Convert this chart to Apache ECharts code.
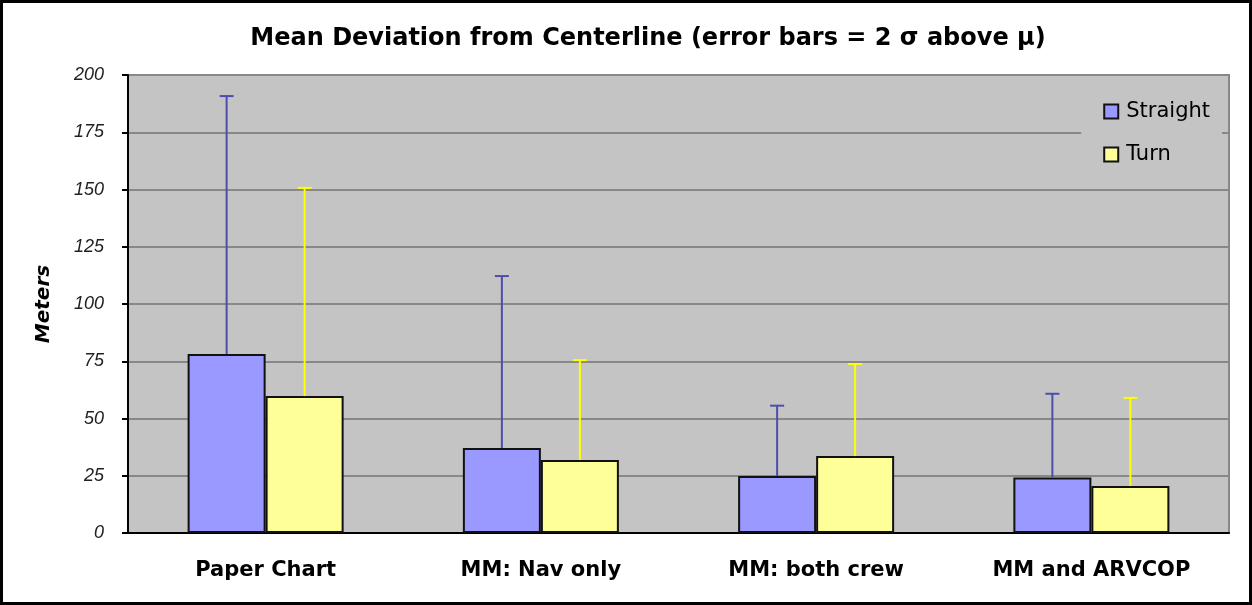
<!DOCTYPE html>
<html>
<head>
<meta charset="utf-8">
<script src="https://cdn.jsdelivr.net/npm/echarts@6/dist/echarts.min.js"></script>
<style>
  html, body { margin: 0; padding: 0; background: #fff; }
  #chart-container { width: 1252px; height: 605px; box-sizing: border-box; border: 3px solid #000; }
</style>
</head>
<body>
<div id="chart-container"></div>
<script>
var categories = ['Paper Chart', 'MM: Nav only', 'MM: both crew', 'MM and ARVCOP'];
var straightMean = [78.2, 37.1, 24.9, 24.2];
var turnMean = [59.8, 31.9, 33.6, 20.5];
// top of each error bar (mean + 2 sigma)
var straightTop = [190.8, 112.2, 55.6, 60.8];
var turnTop = [150.7, 75.5, 73.8, 59.0];

var dom = document.getElementById('chart-container');
var myChart = echarts.init(dom, null, { renderer: 'canvas' });

function errorData(means, tops) {
  var out = [];
  for (var i = 0; i < means.length; i++) {
    out.push([i, means[i], tops[i]]);
  }
  return out;
}

function errorSeries(name, means, tops, color, offset) {
  return {
    name: name,
    type: 'custom',
    data: errorData(means, tops),
    encode: { x: 0, y: [1, 2] },
    z: 5,
    renderItem: function (params, api) {
      var lo = api.coord([api.value(0), api.value(1)]);
      var hi = api.coord([api.value(0), api.value(2)]);
      var x = lo[0] + offset;
      var style = { stroke: color, lineWidth: 2 };
      return {
        type: 'group',
        children: [
          { type: 'line', shape: { x1: x, y1: lo[1], x2: x, y2: hi[1] }, style: style },
          { type: 'line', shape: { x1: x - 7, y1: hi[1], x2: x + 7, y2: hi[1] }, style: style }
        ]
      };
    }
  };
}

var option = {
  backgroundColor: '#fff',
  animation: false,
  title: {
    text: 'Mean Deviation from Centerline (error bars = 2 \u03c3 above \u03bc)',
    left: 640,
    top: 19,
    textAlign: 'center',
    textStyle: { fontFamily: 'DejaVu Sans', fontWeight: 'bold', fontSize: 24, color: '#000' }
  },
  legend: {
    data: ['Straight', 'Turn'],
    orient: 'vertical',
    right: 27,
    top: 88,
    padding: [10, 12, 10, 22],
    itemGap: 22,
    itemWidth: 14,
    itemHeight: 14,
    icon: 'rect',
    backgroundColor: '#c4c4c4',
    textStyle: { fontFamily: 'DejaVu Sans', fontSize: 21, color: '#000', padding: [0, 0, 0, 3] }
  },
  grid: {
    left: 125,
    right: 20,
    top: 72,
    bottom: 69,
    show: true,
    backgroundColor: '#c4c4c4',
    borderColor: '#888',
    borderWidth: 2
  },
  xAxis: {
    type: 'category',
    data: categories,
    axisLine: { lineStyle: { color: '#000', width: 2 } },
    axisTick: { length: 8, lineStyle: { color: '#000', width: 2 } },
    axisLabel: {
      margin: 27,
      fontFamily: 'DejaVu Sans',
      fontWeight: 'bold',
      fontSize: 21,
      color: '#000'
    }
  },
  yAxis: {
    type: 'value',
    min: 0,
    max: 200,
    interval: 25,
    name: 'Meters',
    nameLocation: 'middle',
    nameRotate: 90,
    nameGap: 74,
    nameTextStyle: { fontFamily: 'DejaVu Sans', fontStyle: 'italic', fontWeight: 'bold', fontSize: 20, color: '#000' },
    axisLine: { show: true, lineStyle: { color: '#000', width: 2 } },
    axisTick: { show: true, length: 6, lineStyle: { color: '#000', width: 2 } },
    axisLabel: {
      margin: 24,
      fontFamily: 'Liberation Sans',
      fontStyle: 'italic',
      fontSize: 18,
      color: '#222'
    },
    splitLine: { lineStyle: { color: '#888', width: 2 } }
  },
  series: [
    {
      name: 'Straight',
      type: 'bar',
      data: straightMean,
      barWidth: 78,
      barGap: '0%',
      itemStyle: { color: '#9999ff', borderColor: '#111', borderWidth: 2 }
    },
    {
      name: 'Turn',
      type: 'bar',
      data: turnMean,
      barWidth: 78,
      itemStyle: { color: '#ffff99', borderColor: '#111', borderWidth: 2 }
    },
    errorSeries('Straight error', straightMean, straightTop, '#4d4dab', -39),
    errorSeries('Turn error', turnMean, turnTop, '#ffff00', 39)
  ]
};

myChart.setOption(option);
window.addEventListener('resize', myChart.resize);
</script>
</body>
</html>
